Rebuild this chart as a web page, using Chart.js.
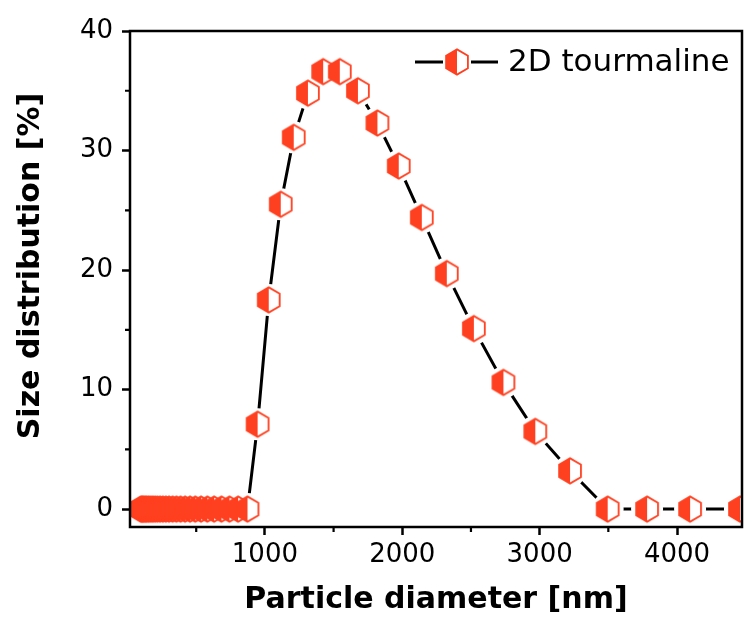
<!DOCTYPE html>
<html>
<head>
<meta charset="utf-8">
<script src="https://cdn.jsdelivr.net/npm/chart.js@4"></script>
<style>
    html, body { margin: 0; padding: 0; background: #fff; }
    #wrap { width: 745px; height: 631px; }
</style>
</head>
<body>
<div id="wrap"><canvas id="graficoTamano" width="745" height="631"></canvas></div>
<script>
// diámetros de partícula (nm) y distribución (%)
const diameters = [96, 105, 114, 123, 134, 145, 157, 171, 185, 201,
    218, 237, 257, 279, 302, 328, 356, 386, 419, 455,
    493, 535, 581, 630, 684, 742, 805, 873,
    947, 1028, 1115, 1210, 1313, 1424, 1545, 1677, 1819, 1974,
    2142, 2324, 2521, 2736, 2968, 3221, 3495, 3782, 4095, 4458];
const distribution = [0, 0, 0, 0, 0, 0, 0, 0, 0, 0,
    0, 0, 0, 0, 0, 0, 0, 0, 0, 0,
    0, 0, 0, 0, 0, 0, 0, 0,
    7.1, 17.5, 25.5, 31.1, 34.8, 36.6, 36.6, 35.0, 32.3, 28.7,
    24.4, 19.7, 15.1, 10.6, 6.5, 3.2, 0, 0, 0, 0];
const seriesName = '2D tourmaline';

const xTicks = [1000, 2000, 3000, 4000];
const xMinorTicks = [500, 1500, 2500, 3500];
const yTicks = [0, 10, 20, 30, 40];
const yMinorTicks = [5, 15, 25, 35];

const yTitle = 'Size distribution [%]';
const naranja = '#ff4020';

// hexágono con la mitad izquierda rellena
function hexMarker(r) {
    const size = Math.ceil(2 * r + 4);
    const c = document.createElement('canvas');
    c.width = size;
    c.height = size;
    const ctx = c.getContext('2d');
    const cx = size / 2, cy = size / 2, w = r * Math.sqrt(3) / 2;
    const pts = [[cx, cy - r], [cx + w, cy - r / 2], [cx + w, cy + r / 2],
                 [cx, cy + r], [cx - w, cy + r / 2], [cx - w, cy - r / 2]];
    const hex = () => {
        ctx.beginPath();
        pts.forEach((p, i) => i ? ctx.lineTo(p[0], p[1]) : ctx.moveTo(p[0], p[1]));
        ctx.closePath();
    };
    hex();
    ctx.fillStyle = '#fff';
    ctx.fill();
    ctx.beginPath();
    ctx.moveTo(cx, cy - r);
    ctx.lineTo(cx - w, cy - r / 2);
    ctx.lineTo(cx - w, cy + r / 2);
    ctx.lineTo(cx, cy + r);
    ctx.closePath();
    ctx.fillStyle = naranja;
    ctx.fill();
    hex();
    ctx.strokeStyle = naranja;
    ctx.lineWidth = 1.8;
    ctx.stroke();
    return c;
}
const marcador = hexMarker(12.6);

const puntos = diameters.map((d, i) => ({ x: d, y: distribution[i] }));

// marco, ticks menores, título vertical y leyenda
const extras = {
    id: 'extras',
    afterDraw(chart) {
        const ctx = chart.ctx;
        const a = chart.chartArea;
        const xs = chart.scales.x, ys = chart.scales.y;
        ctx.save();
        ctx.strokeStyle = '#000';
        ctx.lineWidth = 2.5;
        ctx.strokeRect(a.left, a.top, a.right - a.left, a.bottom - a.top);
        ctx.lineWidth = 2.2;
        ctx.beginPath();
        xMinorTicks.forEach(v => {
            const px = xs.getPixelForValue(v);
            ctx.moveTo(px, a.bottom);
            ctx.lineTo(px, a.bottom + 5);
        });
        yMinorTicks.forEach(v => {
            const py = ys.getPixelForValue(v);
            ctx.moveTo(a.left, py);
            ctx.lineTo(a.left - 5, py);
        });
        ctx.stroke();

        // título del eje y
        ctx.save();
        ctx.translate(31, 266);
        ctx.rotate(-Math.PI / 2);
        ctx.fillStyle = '#000';
        ctx.font = 'bold 30px "DejaVu Sans"';
        ctx.textAlign = 'center';
        ctx.textBaseline = 'middle';
        ctx.fillText(yTitle, 0, 0);
        ctx.restore();

        // leyenda
        const ly = 62;
        ctx.lineWidth = 3;
        ctx.beginPath();
        ctx.moveTo(415, ly); ctx.lineTo(443, ly);
        ctx.moveTo(471, ly); ctx.lineTo(498, ly);
        ctx.stroke();
        ctx.drawImage(marcador, 457 - marcador.width / 2, ly - marcador.height / 2);
        ctx.fillStyle = '#000';
        ctx.font = '31px "DejaVu Sans"';
        ctx.textBaseline = 'middle';
        ctx.fillText(chart.data.datasets[2].label, 508, ly + 1);
        ctx.restore();
    }
};

Chart.defaults.font.family = '"DejaVu Sans"';
Chart.defaults.color = '#000';

new Chart(document.getElementById('graficoTamano'), {
    type: 'line',
    data: {
        datasets: [
            {
                // línea negra
                label: 'linea',
                data: puntos,
                borderColor: '#000',
                borderWidth: 3,
                pointRadius: 0,
                tension: 0,
                fill: false,
                clip: 0,
                order: 3
            },
            {
                // hueco blanco alrededor de cada marcador
                label: 'hueco',
                data: puntos,
                showLine: false,
                pointStyle: 'circle',
                pointRadius: 16,
                pointBackgroundColor: '#fff',
                pointBorderWidth: 0,
                pointBorderColor: '#fff',
                clip: 0,
                order: 2
            },
            {
                label: seriesName,
                data: puntos,
                showLine: false,
                pointStyle: marcador,
                pointRadius: 12,
                clip: 0,
                order: 1
            }
        ]
    },
    options: {
        responsive: false,
        animation: false,
        events: [],
        layout: { autoPadding: false, padding: { left: 0, top: 31, right: 3, bottom: 0 } },
        plugins: {
            legend: { display: false },
            tooltip: { enabled: false }
        },
        scales: {
            x: {
                type: 'linear',
                min: 18,
                max: 4473,
                afterBuildTicks: s => { s.ticks = xTicks.map(v => ({ value: v })); },
                afterFit: s => { s.height = 104; s.paddingLeft = 0; s.paddingRight = 0; },
                grid: { drawOnChartArea: false, tickLength: 8, tickWidth: 2.5, tickColor: '#000' },
                border: { display: false },
                ticks: { font: { size: 26 }, padding: 5, maxRotation: 0, callback: v => String(v) },
                title: {
                    display: true,
                    text: 'Particle diameter [nm]',
                    font: { size: 30, weight: 'bold' },
                    padding: { top: 0, bottom: 13 }
                }
            },
            y: {
                min: -1.5,
                max: 40,
                afterBuildTicks: s => { s.ticks = yTicks.map(v => ({ value: v })); },
                afterFit: s => { s.width = 130; s.paddingTop = 0; s.paddingBottom = 0; },
                grid: { drawOnChartArea: false, tickLength: 8, tickWidth: 2.5, tickColor: '#000' },
                border: { display: false },
                ticks: { font: { size: 26 }, padding: 9, callback: v => String(v) },
                title: { display: false, text: yTitle }
            }
        }
    },
    plugins: [extras]
});
</script>
</body>
</html>
